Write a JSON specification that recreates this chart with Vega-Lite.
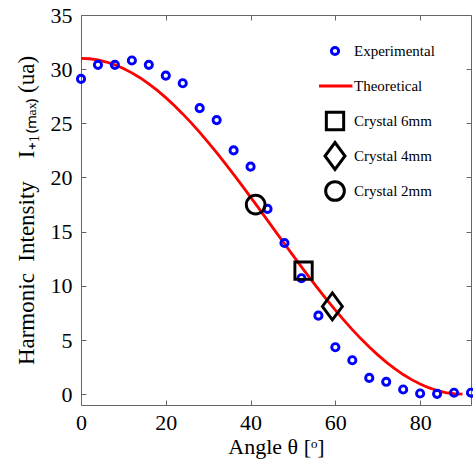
{
  "$schema": "https://vega.github.io/schema/vega-lite/v6.json",
  "width": 390,
  "height": 390,
  "autosize": {"type": "none"},
  "padding": {"left": 81, "top": 15, "right": 2, "bottom": 58},
  "background": "white",
  "config": {
    "font": "Liberation Serif",
    "view": {"stroke": "#666", "strokeWidth": 1},
    "axis": {
      "grid": false, "domain": false, "tickColor": "#666", "tickSize": -5,
      "labelColor": "#000", "labelFontSize": 22, "titleFontSize": 22,
      "titleFontWeight": "normal", "titleColor": "#000",
      "labelFont": "Liberation Serif", "titleFont": "Liberation Serif", "labelFlush": false
    }
  },
  "datasets": {
    "points": [
      {"theta": 0, "value": 29.1, "series": "Experimental"},
      {"theta": 4, "value": 30.4, "series": "Experimental"},
      {"theta": 8, "value": 30.4, "series": "Experimental"},
      {"theta": 12, "value": 30.8, "series": "Experimental"},
      {"theta": 16, "value": 30.4, "series": "Experimental"},
      {"theta": 20, "value": 29.4, "series": "Experimental"},
      {"theta": 24, "value": 28.7, "series": "Experimental"},
      {"theta": 28, "value": 26.4, "series": "Experimental"},
      {"theta": 32, "value": 25.3, "series": "Experimental"},
      {"theta": 36, "value": 22.5, "series": "Experimental"},
      {"theta": 40, "value": 21.0, "series": "Experimental"},
      {"theta": 44, "value": 17.1, "series": "Experimental"},
      {"theta": 48, "value": 13.95, "series": "Experimental"},
      {"theta": 52, "value": 10.7, "series": "Experimental"},
      {"theta": 56, "value": 7.25, "series": "Experimental"},
      {"theta": 60, "value": 4.33, "series": "Experimental"},
      {"theta": 64, "value": 3.13, "series": "Experimental"},
      {"theta": 68, "value": 1.5, "series": "Experimental"},
      {"theta": 72, "value": 1.14, "series": "Experimental"},
      {"theta": 76, "value": 0.43, "series": "Experimental"},
      {"theta": 80, "value": 0.06, "series": "Experimental"},
      {"theta": 84, "value": 0.03, "series": "Experimental"},
      {"theta": 88, "value": 0.13, "series": "Experimental"},
      {"theta": 92, "value": 0.13, "series": "Experimental"},
      {"theta": 41.2, "value": 17.5, "series": "Crystal 2mm"},
      {"theta": 52.5, "value": 11.4, "series": "Crystal 6mm"},
      {"theta": 59.3, "value": 8.1, "series": "Crystal 4mm"}
    ],
    "theory": [
      {"theta": 0, "value": 31.0}, {"theta": 2, "value": 30.96}, {"theta": 4, "value": 30.85},
      {"theta": 6, "value": 30.66}, {"theta": 8, "value": 30.4}, {"theta": 10, "value": 30.07},
      {"theta": 12, "value": 29.66}, {"theta": 14, "value": 29.19}, {"theta": 16, "value": 28.65},
      {"theta": 18, "value": 28.04}, {"theta": 20, "value": 27.37}, {"theta": 22, "value": 26.65},
      {"theta": 24, "value": 25.87}, {"theta": 26, "value": 25.04}, {"theta": 28, "value": 24.17},
      {"theta": 30, "value": 23.25}, {"theta": 32, "value": 22.3}, {"theta": 34, "value": 21.31},
      {"theta": 36, "value": 20.29}, {"theta": 38, "value": 19.25}, {"theta": 40, "value": 18.19},
      {"theta": 42, "value": 17.12}, {"theta": 44, "value": 16.04}, {"theta": 46, "value": 14.96},
      {"theta": 48, "value": 13.88}, {"theta": 50, "value": 12.81}, {"theta": 52, "value": 11.75},
      {"theta": 54, "value": 10.71}, {"theta": 56, "value": 9.69}, {"theta": 58, "value": 8.71},
      {"theta": 60, "value": 7.75}, {"theta": 62, "value": 6.83}, {"theta": 64, "value": 5.96},
      {"theta": 66, "value": 5.13}, {"theta": 68, "value": 4.35}, {"theta": 70, "value": 3.63},
      {"theta": 72, "value": 2.96}, {"theta": 74, "value": 2.36}, {"theta": 76, "value": 1.81},
      {"theta": 78, "value": 1.34}, {"theta": 80, "value": 0.94}, {"theta": 82, "value": 0.6},
      {"theta": 84, "value": 0.34}, {"theta": 86, "value": 0.15}, {"theta": 88, "value": 0.04},
      {"theta": 90, "value": 0.0}
    ]
  },
  "resolve": {"axis": {"x": "independent", "y": "independent"}},
  "layer": [
    {
      "data": {"name": "theory"},
      "mark": {"type": "line", "color": "#ff0000", "strokeWidth": 2.8, "clip": false},
      "encoding": {
        "x": {"field": "theta", "type": "quantitative", "scale": {"domain": [0, 92], "nice": false, "zero": false},
              "axis": {"orient": "top", "labels": false, "title": null, "values": [0, 20, 40, 60, 80]}},
        "y": {"field": "value", "type": "quantitative", "scale": {"domain": [-1, 35], "nice": false, "zero": false},
              "axis": {"orient": "right", "labels": false, "title": null, "values": [0, 5, 10, 15, 20, 25, 30, 35]}}
      }
    },
    {
      "data": {"name": "points"},
      "mark": {"type": "point", "filled": false, "strokeWidth": 2.9, "opacity": 1, "clip": false},
      "encoding": {
        "x": {"field": "theta", "type": "quantitative", "scale": {"domain": [0, 92], "nice": false, "zero": false},
              "axis": {"orient": "bottom", "title": "Angle θ [ᵒ]", "values": [0, 20, 40, 60, 80], "labelPadding": 12, "titlePadding": 3}},
        "y": {"field": "value", "type": "quantitative", "scale": {"domain": [-1, 35], "nice": false, "zero": false},
              "axis": {"orient": "left", "title": "Harmonic\u2002Intensity\u2003I\u208a\u2081\u208d\u2098\u2090\u2093\u208e\u2009(ua)", "titleFontSize": 23, "values": [0, 5, 10, 15, 20, 25, 30, 35], "labelPadding": 14, "titlePadding": 12}},
        "color": {
          "field": "series", "type": "nominal",
          "scale": {"domain": ["Experimental", "Theoretical", "Crystal 6mm", "Crystal 4mm", "Crystal 2mm"],
                    "range": ["#0000ff", "#ff0000", "#000000", "#000000", "#000000"]},
          "legend": {"orient": "none", "legendX": 238, "legendY": 20, "padding": 0, "title": null,
                     "labelFontSize": 15, "labelFont": "Liberation Serif", "labelColor": "#000",
                     "symbolStrokeWidth": 3, "clipHeight": 32, "rowPadding": 3, "labelOffset": 3,
                     "symbolFillColor": "transparent"}
        },
        "shape": {
          "field": "series", "type": "nominal",
          "scale": {"domain": ["Experimental", "Theoretical", "Crystal 6mm", "Crystal 4mm", "Crystal 2mm"],
                    "range": ["circle", "M-1.2,0H1.2", "square", "M0,-1L0.74,0L0,1L-0.74,0Z", "circle"]}
        },
        "size": {
          "field": "series", "type": "nominal",
          "scale": {"type": "ordinal", "domain": ["Experimental", "Theoretical", "Crystal 6mm", "Crystal 4mm", "Crystal 2mm"],
                    "range": [52, 841, 300, 729, 350]}
        }
      }
    }
  ]
}
